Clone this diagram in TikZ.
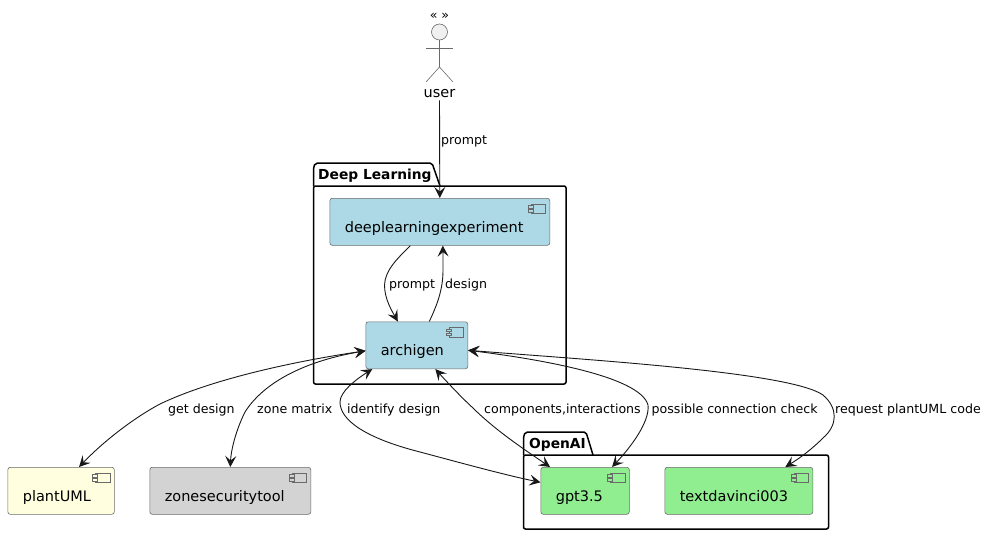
\documentclass[tikz,border=0pt]{standalone}
\usepackage{fontspec}
\setmainfont{DejaVu Sans}
\usetikzlibrary{positioning, arrows.meta}
\definecolor{compblue}{HTML}{ADD8E6}
\definecolor{compyellow}{HTML}{FFFFE0}
\definecolor{compgray}{HTML}{D3D3D3}
\definecolor{compgreen}{HTML}{90EE90}
\definecolor{edgecol}{HTML}{181818}
\definecolor{bordercol}{HTML}{6A6A6A}
\tikzset{
	>={Stealth[length=11pt,width=11pt,inset=4.5pt]},
	comp/.style={draw=bordercol, line width=0.6pt, rounded corners=2.5pt, anchor=north west, inner xsep=15pt, inner ysep=0pt, text height=34pt, text depth=13pt, align=left, font=\fontsize{14.5}{16}\selectfont},
	pkg/.style={draw=black, line width=1.5pt, rounded corners=2pt},
	pkgtitle/.style={anchor=base west, inner sep=0pt, font=\bfseries\fontsize{13.8}{16}\selectfont},
	lab/.style={anchor=base west, inner sep=0pt, font=\fontsize{12.6}{15}\selectfont},
	flow/.style={draw=edgecol, line width=0.9pt, ->},
	biflow/.style={draw=edgecol, line width=0.9pt, <->},
	actorline/.style={draw=bordercol, line width=0.6pt}
}
\begin{document}
\begin{tikzpicture}[x=1pt, y=-1pt]
		\useasboundingbox (0,0) rectangle (986,535);
		
		\draw[pkg] (313.5,186) -- (313.5,167) -- (315.5,163) -- (432,163) -- (440,186);
		\draw[pkg] (313.5,186) rectangle (566,384);
		\draw[pkg] (523.5,455) -- (523.5,436) -- (525.5,432) -- (586,432) -- (593,455);
		\draw[pkg] (523.5,455) rectangle (828.5,529);
		\node[pkgtitle] (dltitle) at (318,179) {Deep Learning};
		\node[pkgtitle] (oaititle) at (529,448) {OpenAI};
		
		\node[comp, fill=compblue, text width=190pt] (deep) at (329.5,198) {deeplearningexperiment};
		\node[comp, fill=compblue, text width=72pt] (archigen) at (365.5,321.5) {archigen};
		\node[comp, fill=compyellow, text width=76.5pt] (plantuml) at (7.5,467) {plantUML};
		\node[comp, fill=compgray, text width=131pt] (zonetool) at (149.5,467) {zonesecuritytool};
		\node[comp, fill=compgreen, text width=58.5pt] (gpt) at (540.5,467) {gpt3.5};
		\node[comp, fill=compgreen, text width=118pt] (davinci) at (664.5,467) {textdavinci003};
		
		\foreach \comp/\col in {deep/compblue, archigen/compblue, plantuml/compyellow, zonetool/compgray, gpt/compgreen, davinci/compgreen} {
			\draw[actorline] ([xshift=-19pt,yshift=-6pt]\comp.north east) rectangle ([xshift=-4.5pt,yshift=-15.5pt]\comp.north east);
			\draw[actorline, fill=\col] ([xshift=-22pt,yshift=-7.5pt]\comp.north east) rectangle ([xshift=-17pt,yshift=-10pt]\comp.north east);
			\draw[actorline, fill=\col] ([xshift=-22pt,yshift=-11.5pt]\comp.north east) rectangle ([xshift=-17pt,yshift=-14pt]\comp.north east);
		}
		
		\draw[actorline, fill=black!6] (439.5,32) circle[radius=8];
		\draw[actorline] (439.5,40) -- (439.5,67);
		\draw[actorline] (426,48) -- (453,48);
		\draw[actorline] (426,82) -- (439.5,67) -- (453,82);
		\node[lab, anchor=base] (stereo) at (439.5,20) {« »};
		\node[anchor=base, inner sep=3pt, font=\fontsize{14.5}{16}\selectfont] (user) at (439.5,97) {user};
		
		\draw[flow] (user.south) -- (deep.north);
		\draw[flow] ([xshift=-29.5pt]deep.south) .. controls (398,258) and (385,270) .. (384.5,285) .. controls (384.5,299) and (392,311) .. ([xshift=-19pt]archigen.north);
		\draw[flow] ([xshift=12.5pt]archigen.north) .. controls (437,305) and (443,290) .. (443,270) .. controls (443,261) and (443,253) .. ([xshift=3pt]deep.south);
		\draw[biflow] ([yshift=-5.5pt]archigen.west) .. controls (290,362) and (210,380) .. (160,404) .. controls (130,420) and (100,445) .. ([xshift=18pt]plantuml.north);
		\draw[biflow] ([yshift=-5.5pt]archigen.west) .. controls (300,362) and (262,385) .. (245,412) .. controls (236,430) and (231,450) .. (zonetool.north);
		\draw[biflow] ([xshift=-44.5pt]archigen.south) .. controls (355,380) and (340,392) .. (340,402) .. controls (340,420) and (365,438) .. (420,452) .. controls (465,464) and (505,475) .. ([yshift=8.5pt]gpt.west);
		\draw[biflow] ([xshift=18.5pt]archigen.south) .. controls (447,382) and (462,398) .. (473,408) .. controls (495,430) and (525,450) .. ([xshift=-35pt]gpt.north);
		\draw[biflow] ([yshift=-5pt]archigen.east) .. controls (530,358) and (640,375) .. (648,405) .. controls (650,422) and (630,448) .. ([xshift=27pt]gpt.north);
		\draw[biflow] ([yshift=-5pt]archigen.east) .. controls (590,360) and (790,372) .. (823,395) .. controls (838,408) and (838,425) .. (823,438) .. controls (812,449) and (800,458) .. ([xshift=46.5pt]davinci.north);
		
		\node[lab] (lprompt) at (441,144) {prompt};
		\node[lab] (lprompttwo) at (389,288) {prompt};
		\node[lab] (ldesign) at (445,288) {design};
		\node[lab] (lget) at (168,413) {get design};
		\node[lab] (lzone) at (257,413) {zone matrix};
		\node[lab] (lidentify) at (347,413) {identify design};
		\node[lab] (lcomponents) at (484,413) {components,interactions};
		\node[lab] (lpossible) at (651.5,413) {possible connection check};
		\node[lab] (lrequest) at (835,413) {request plantUML code};
		
		\end{tikzpicture}
\end{document}
